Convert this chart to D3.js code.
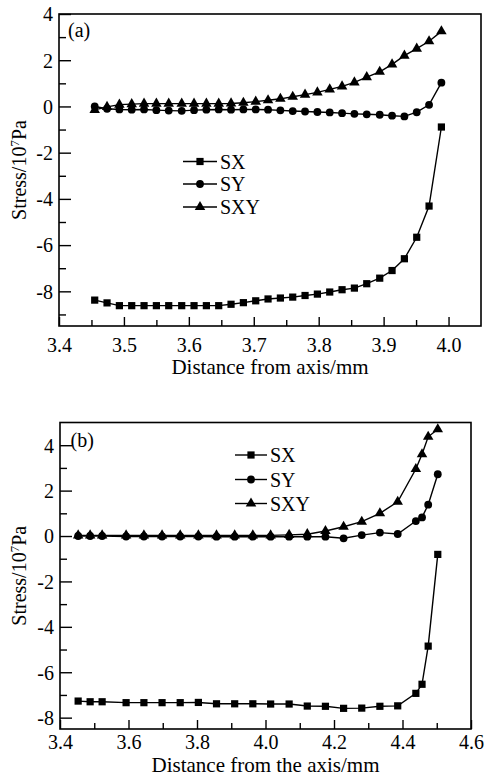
<!DOCTYPE html>
<html>
<head>
<meta charset="utf-8">
<script src="https://cdn.jsdelivr.net/npm/d3@7"></script>
<style>
  html, body { margin: 0; padding: 0; background: #fff; }
  svg { display: block; }
  svg text { font-family: "Liberation Serif", "Times New Roman", serif; fill: #000; }
</style>
</head>
<body>
<svg id="chart" width="485" height="778"></svg>
<script>
// Panel (a): stress components vs. distance from axis
const distanceA = [3.455, 3.474, 3.493, 3.512, 3.531, 3.550, 3.569, 3.589, 3.608, 3.627,
                   3.646, 3.665, 3.684, 3.703, 3.722, 3.741, 3.760, 3.779, 3.798, 3.817,
                   3.836, 3.855, 3.874, 3.894, 3.913, 3.932, 3.951, 3.970, 3.989];
const sxA  = [-8.38, -8.50, -8.62, -8.62, -8.62, -8.62, -8.62, -8.62, -8.62, -8.62,
              -8.62, -8.56, -8.49, -8.41, -8.33, -8.29, -8.25, -8.18, -8.12, -8.03,
              -7.93, -7.86, -7.67, -7.43, -7.10, -6.59, -5.66, -4.31, -0.89];
const syA  = [0.00, -0.10, -0.13, -0.14, -0.13, -0.16, -0.18, -0.19, -0.16, -0.14,
              -0.13, -0.14, -0.13, -0.13, -0.14, -0.17, -0.20, -0.22, -0.24, -0.26,
              -0.29, -0.32, -0.34, -0.36, -0.40, -0.43, -0.25, 0.07, 1.03];
const sxyA = [-0.15, -0.02, 0.08, 0.10, 0.12, 0.12, 0.12, 0.12, 0.12, 0.12,
              0.12, 0.13, 0.16, 0.21, 0.27, 0.33, 0.42, 0.51, 0.61, 0.74,
              0.87, 1.04, 1.27, 1.50, 1.82, 2.20, 2.50, 2.82, 3.25];

// Panel (b): stress components vs. distance from the axis
const distanceB = [3.453, 3.488, 3.523, 3.593, 3.645, 3.698, 3.751, 3.804, 3.857, 3.910,
                   3.963, 4.015, 4.069, 4.122, 4.175, 4.228, 4.281, 4.334, 4.386, 4.439,
                   4.457, 4.475, 4.503];
const sxB  = [-7.27, -7.30, -7.30, -7.34, -7.34, -7.34, -7.34, -7.33, -7.39, -7.39,
              -7.39, -7.40, -7.40, -7.49, -7.50, -7.59, -7.58, -7.50, -7.48, -6.93,
              -6.53, -4.85, -0.81];
const syB  = [0.00, 0.00, 0.00, -0.02, -0.02, -0.02, -0.02, -0.02, -0.03, -0.03,
              -0.03, -0.03, -0.03, -0.03, -0.03, -0.10, 0.04, 0.15, 0.09, 0.66,
              0.82, 1.38, 2.72];
const sxyB = [0.03, 0.03, 0.03, 0.03, 0.03, 0.03, 0.03, 0.03, 0.03, 0.03,
              0.03, 0.03, 0.05, 0.08, 0.22, 0.41, 0.63, 1.00, 1.51, 2.95,
              3.60, 4.37, 4.70];

const seriesNames = ["SX", "SY", "SXY"];

// Axis ticks
const xMajorA = [3.4, 3.5, 3.6, 3.7, 3.8, 3.9, 4.0];
const xMinorA = [3.45, 3.55, 3.65, 3.75, 3.85, 3.95];
const yMajorA = [-8, -6, -4, -2, 0, 2, 4];
const yMinorA = [-9, -7, -5, -3, -1, 1, 3];
const xMajorB = [3.4, 3.6, 3.8, 4.0, 4.2, 4.4, 4.6];
const xMinorB = [3.5, 3.7, 3.9, 4.1, 4.3, 4.5];
const yMajorB = [-8, -6, -4, -2, 0, 2, 4];
const yMinorB = [-7, -5, -3, -1, 1, 3];

const symbolTypes = [d3.symbolSquare, d3.symbolCircle, d3.symbolTriangle];
const symbolSizes = [52, 48, 48];
const FONT = '"Liberation Serif", "Times New Roman", serif';

const svg = d3.select("#chart");
svg.append("rect").attr("width", 485).attr("height", 778).attr("fill", "#fff");

function drawPanel(p) {
  const x = d3.scaleLinear().domain(p.xDomain).range([p.left, p.right]);
  const y = d3.scaleLinear().domain(p.yDomain).range([p.bottom, p.top]);
  const g = svg.append("g");

  // x axis, ticks pointing inward
  const xAxis = g.append("g").attr("transform", `translate(0,${p.bottom})`)
    .call(d3.axisBottom(x).tickValues(p.xMajor).tickFormat(d3.format(".1f"))
      .tickSizeInner(-9).tickSizeOuter(0).tickPadding(0));
  xAxis.attr("font-family", FONT).attr("font-size", 20);
  xAxis.select(".domain").remove();
  xAxis.selectAll("text").attr("y", p.xLabelOffset).attr("dy", null);
  xAxis.selectAll("line").attr("stroke-width", 1.4);
  const xMinor = g.append("g").attr("transform", `translate(0,${p.bottom})`)
    .call(d3.axisBottom(x).tickValues(p.xMinor).tickFormat("").tickSizeInner(-6).tickSizeOuter(0));
  xMinor.select(".domain").remove();
  xMinor.selectAll("line").attr("stroke-width", 1.4);

  // y axis, ticks pointing inward
  const yAxis = g.append("g").attr("transform", `translate(${p.left},0)`)
    .call(d3.axisLeft(y).tickValues(p.yMajor).tickFormat(d => String(d))
      .tickSizeInner(-12).tickSizeOuter(0).tickPadding(6));
  yAxis.attr("font-family", FONT).attr("font-size", 20);
  yAxis.select(".domain").remove();
  yAxis.selectAll("text").attr("dy", "0.34em");
  yAxis.selectAll("line").attr("stroke-width", 1.4);
  const yMinor = g.append("g").attr("transform", `translate(${p.left},0)`)
    .call(d3.axisLeft(y).tickValues(p.yMinor).tickFormat("").tickSizeInner(-7).tickSizeOuter(0));
  yMinor.select(".domain").remove();
  yMinor.selectAll("line").attr("stroke-width", 1.4);

  // frame
  g.append("rect")
    .attr("x", p.left).attr("y", p.top)
    .attr("width", p.right - p.left).attr("height", p.bottom - p.top)
    .attr("fill", "none").attr("stroke", "#000").attr("stroke-width", 1.6);

  // series lines and markers
  const line = d3.line().x(d => x(d[0])).y(d => y(d[1]));
  p.series.forEach((vals, i) => {
    const pts = p.distance.map((d, k) => [d, vals[k]]);
    g.append("path").datum(pts).attr("d", line)
      .attr("fill", "none").attr("stroke", "#000").attr("stroke-width", 1.4);
    g.append("g").selectAll("path").data(pts).join("path")
      .attr("transform", d => `translate(${x(d[0])},${y(d[1])})`)
      .attr("d", d3.symbol().type(symbolTypes[i]).size(symbolSizes[i]))
      .attr("fill", "#000");
  });

  // legend
  const lg = g.append("g");
  seriesNames.forEach((name, i) => {
    const cy = p.legend.rows[i];
    lg.append("line").attr("x1", p.legend.x1).attr("x2", p.legend.x2)
      .attr("y1", cy).attr("y2", cy).attr("stroke", "#000").attr("stroke-width", 1.4);
    lg.append("path")
      .attr("transform", `translate(${(p.legend.x1 + p.legend.x2) / 2},${cy})`)
      .attr("d", d3.symbol().type(symbolTypes[i]).size(symbolSizes[i]))
      .attr("fill", "#000");
    lg.append("text").attr("x", p.legend.x2 + 3).attr("y", cy + 7)
      .attr("font-size", 20).text(name);
  });

  // panel tag
  g.append("text").attr("x", p.tag.x).attr("y", p.tag.y).attr("font-size", 20).text(p.tag.text);

  // axis titles
  g.append("text").attr("x", (p.left + p.right) / 2).attr("y", p.xTitleY)
    .attr("text-anchor", "middle").attr("font-size", 21).text(p.xTitle);

  const yt = g.append("text")
    .attr("transform", `translate(${p.yTitleX},${(p.top + p.bottom) / 2}) rotate(-90)`)
    .attr("text-anchor", "middle").attr("font-size", 20);
  yt.append("tspan").text("Stress/10");
  yt.append("tspan").attr("dy", -7).attr("font-size", 13).text("7");
  yt.append("tspan").attr("dy", 7).text("Pa");
}

drawPanel({
  left: 59, right: 481, top: 14, bottom: 326,
  xDomain: [3.4, 4.05], yDomain: [-9.5, 4],
  xMajor: xMajorA, xMinor: xMinorA, yMajor: yMajorA, yMinor: yMinorA,
  xLabelOffset: 25.5,
  distance: distanceA, series: [sxA, syA, sxyA],
  legend: { x1: 183, x2: 217, rows: [161.5, 184, 207] },
  tag: { x: 68, y: 36.5, text: "(a)" },
  xTitle: "Distance from axis/mm", xTitleY: 374,
  yTitleX: 26
});

drawPanel({
  left: 60, right: 471, top: 422.5, bottom: 729,
  xDomain: [3.4, 4.6], yDomain: [-8.5, 5],
  xMajor: xMajorB, xMinor: xMinorB, yMajor: yMajorB, yMinor: yMinorB,
  xLabelOffset: 20,
  distance: distanceB, series: [sxB, syB, sxyB],
  legend: { x1: 235, x2: 267, rows: [455, 479.5, 503.5] },
  tag: { x: 70.5, y: 446.5, text: "(b)" },
  xTitle: "Distance from the axis/mm", xTitleY: 772,
  yTitleX: 26
});
</script>
</body>
</html>
